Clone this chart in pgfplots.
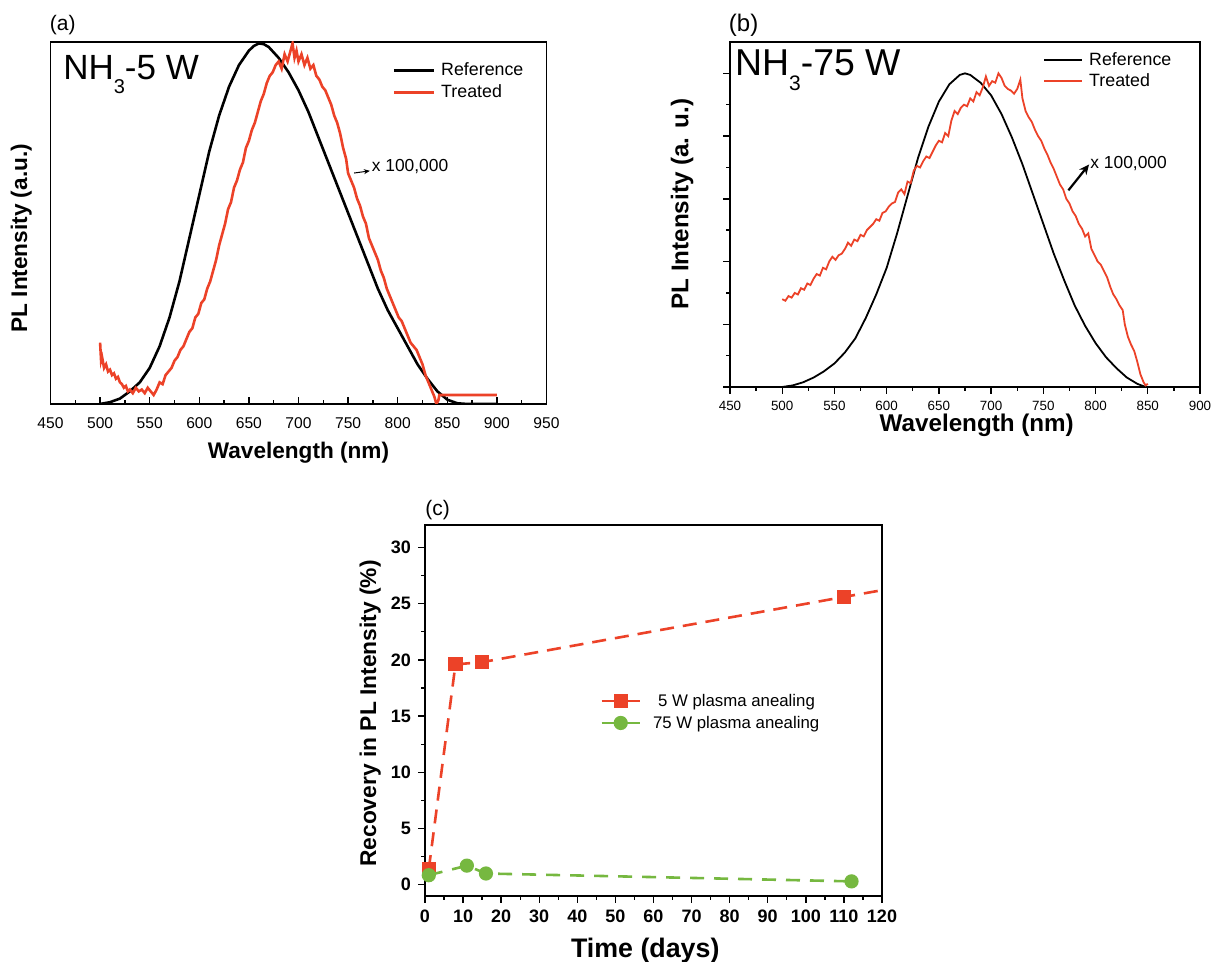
\documentclass[border=0pt]{standalone}
\usepackage{fontspec}
\setmainfont{Liberation Sans}
\usepackage{pgfplots}
\pgfplotsset{compat=1.18}
\usetikzlibrary{arrows.meta}
\definecolor{redline}{RGB}{236,66,40}
\definecolor{greenline}{RGB}{118,184,64}
\newcommand{\fs}[1]{\fontsize{#1}{1.2\dimexpr#1pt\relax}\selectfont}

\pgfplotsset{
  panel/.style={
    scale only axis,
    anchor=south west,
    axis line style={line width=0.8pt},
    every tick/.style={black, line width=0.7pt},
    tick align=outside,
    xtick pos=bottom,
    ytick pos=left,
    major tick length=3.5pt,
    minor tick length=2pt,
    /pgf/number format/assume math mode=true,
    /pgf/number format/1000 sep={},
    clip mode=individual,
  },
  spectrumlegend/.style={
    legend cell align=left,
    legend style={draw=none, fill=none, inner sep=0pt, row sep=#1,
      column sep=3pt, nodes={inner sep=0pt, text height=6.5pt, text depth=1pt}},
  },
}

\begin{document}
\begin{tikzpicture}
\path[use as bounding box] (0,0) rectangle (606pt,481pt);

% ---------------- (a) NH3-5 W ----------------
\begin{axis}[panel,
  at={(25.25pt,279pt)}, width=248pt, height=181pt,
  xmin=450, xmax=950, ymin=0, ymax=1.004,
  xtick={450,500,...,950}, minor x tick num=1,
  tick align=inside, xticklabel shift=3.5pt,
  ytick=\empty,
  tick label style={font=\fs{7.8}},
  xlabel={\bfseries Wavelength (nm)},
  ylabel={\bfseries PL Intensity (a.u.)},
  label style={font=\fs{11.3}},
  xlabel style={at={(axis description cs:0.5,-0.085)}, anchor=north},
  ylabel style={at={(axis description cs:-0.059,0.458)}, anchor=center},
  spectrumlegend=3.5pt,
  legend style={at={(rel axis cs:0.689,0.8915)}, anchor=west, font=\fs{8.9}},
  legend image code/.code={\draw[#1] (0pt,0pt) -- (20pt,0pt);},
]
\addplot[black, line width=1.3pt] coordinates {
(500,0.000) (510,0.005) (520,0.015) (530,0.035) (540,0.060) (550,0.100)
(560,0.160) (570,0.240) (580,0.340) (590,0.460) (600,0.580) (610,0.700)
(620,0.800) (630,0.880) (640,0.940) (650,0.980) (655,0.993) (660,1.000)
(665,0.998) (670,0.990) (680,0.960) (690,0.920) (700,0.870) (710,0.810)
(720,0.740) (730,0.670) (740,0.600) (750,0.530) (760,0.460) (770,0.390)
(780,0.320) (790,0.260) (800,0.210) (810,0.160) (820,0.110) (830,0.070)
(840,0.035) (850,0.012) (860,0.002) (870,0.000) (900,0.000)};
\addlegendentry{Reference}
\addplot[redline, line width=1.3pt] coordinates {
(500,0.170) (501,0.120) (502,0.130) (504,0.100) (506,0.110) (508,0.090)
(510,0.095) (512,0.080) (514,0.085) (516,0.070) (518,0.075) (520,0.060)
(522,0.055) (524,0.045) (526,0.050) (528,0.035) (530,0.040) (533,0.030)
(536,0.045) (539,0.035) (542,0.040) (545,0.030) (548,0.045) (551,0.035)
(554,0.025) (557,0.040) (560,0.060) (563,0.055) (566,0.080) (569,0.090)
(572,0.100) (575,0.120) (578,0.130) (581,0.150) (584,0.160) (587,0.180)
(590,0.200) (593,0.210) (596,0.240) (599,0.250) (602,0.280) (605,0.290)
(608,0.320) (611,0.340) (614,0.370) (617,0.400) (620,0.440) (623,0.470)
(626,0.500) (629,0.540) (632,0.560) (635,0.600) (638,0.620) (641,0.650)
(644,0.670) (647,0.710) (650,0.730) (653,0.760) (656,0.780) (659,0.810)
(662,0.840) (665,0.860) (668,0.890) (671,0.910) (674,0.920) (677,0.940)
(680,0.950) (683,0.930) (686,0.970) (689,0.950) (692,0.980) (694,1.000)
(696,0.960) (698,0.980) (700,0.950) (703,0.970) (706,0.940) (709,0.960)
(712,0.930) (715,0.940) (718,0.910) (721,0.900) (724,0.880) (727,0.870)
(730,0.850) (733,0.830) (736,0.800) (739,0.780) (742,0.750) (745,0.710)
(748,0.680) (750,0.640) (753,0.620) (756,0.600) (759,0.570) (762,0.550)
(765,0.520) (768,0.500) (771,0.460) (774,0.440) (777,0.420) (780,0.400)
(783,0.370) (786,0.350) (789,0.320) (792,0.300) (795,0.280) (798,0.260)
(801,0.240) (804,0.230) (807,0.210) (810,0.190) (813,0.170) (816,0.160)
(819,0.150) (822,0.130) (825,0.110) (828,0.080) (831,0.060) (834,0.040)
(837,0.020) (839,0.000) (841,0.010) (842,0.025) (900,0.025)};
\addlegendentry{Treated}
\node[anchor=base west, font=\fs{17.5}, inner sep=0pt] at (rel axis cs:0.025,0.895)
  {NH\raisebox{-7pt}{\fs{10}3}-5 W};
\node[anchor=west, font=\fs{8.7}, inner sep=0pt] at (rel axis cs:0.647,0.657) {x 100,000};
\draw[-{Stealth[length=3pt,width=2.5pt]}, line width=0.5pt]
  (rel axis cs:0.612,0.638) -- (rel axis cs:0.644,0.644);
\node[anchor=west, font=\fs{10.5}, inner sep=0pt] at (rel axis cs:-0.002,1.046) {(a)};
\end{axis}

% ---------------- (b) NH3-75 W ----------------
\begin{axis}[panel,
  at={(365pt,287.5pt)}, width=235pt, height=172.5pt,
  xmin=450, xmax=900, ymin=0, ymax=11,
  xtick={450,500,...,900}, minor x tick num=1,
  ytick={0,2,...,10}, minor ytick={1,3,...,9}, yticklabels={},
  tick label style={font=\fs{6.7}},
  xlabel={\bfseries Wavelength (nm)},
  ylabel={\bfseries PL Intensity (a. u.)},
  label style={font=\fs{12.1}},
  xlabel style={at={(axis description cs:0.525,-0.112)}, anchor=center},
  ylabel style={at={(axis description cs:-0.102,0.53)}, anchor=center},
  spectrumlegend=3pt,
  legend style={at={(rel axis cs:0.666,0.9165)}, anchor=west, font=\fs{8.9}},
  legend image code/.code={\draw[#1] (0pt,0pt) -- (19pt,0pt);},
]
\addplot[black, line width=0.9pt] coordinates {
(500,0.00) (510,0.05) (520,0.15) (530,0.30) (540,0.50) (550,0.75)
(560,1.10) (570,1.55) (580,2.20) (590,2.95) (600,3.80) (610,4.90)
(620,6.10) (630,7.30) (640,8.30) (650,9.10) (660,9.65) (670,9.95)
(675,10.00) (680,9.95) (690,9.70) (700,9.30) (710,8.70) (720,7.95)
(730,7.10) (740,6.15) (750,5.20) (760,4.25) (770,3.40) (780,2.60)
(790,1.95) (800,1.40) (810,0.95) (820,0.60) (830,0.30) (840,0.10)
(848,0.00)};
\addlegendentry{Reference}
\addplot[redline, line width=0.9pt] coordinates {
(500,2.80) (503,2.75) (506,2.90) (509,2.85) (512,3.00) (515,2.95)
(518,3.15) (521,3.10) (524,3.30) (527,3.25) (530,3.45) (533,3.60)
(536,3.55) (539,3.80) (542,3.75) (545,4.00) (548,4.15) (551,4.05)
(554,4.20) (557,4.25) (560,4.40) (563,4.60) (566,4.50) (569,4.70)
(572,4.65) (575,4.85) (578,4.80) (581,5.00) (584,5.10) (587,5.20)
(590,5.35) (593,5.30) (596,5.55) (599,5.60) (602,5.75) (605,5.85)
(608,5.90) (611,6.20) (614,6.30) (617,6.15) (620,6.55) (623,6.50)
(626,6.90) (629,7.05) (632,7.00) (635,7.20) (638,7.35) (641,7.30)
(644,7.50) (647,7.70) (650,7.85) (653,7.80) (656,8.10) (659,8.00)
(662,8.50) (665,8.80) (668,8.70) (671,8.90) (674,9.00) (677,8.95)
(680,9.20) (683,9.10) (686,9.40) (689,9.30) (692,9.55) (695,9.90)
(698,9.60) (701,9.75) (704,9.70) (707,10.00) (710,9.85) (713,9.60)
(716,9.50) (719,9.45) (722,9.35) (725,9.50) (728,9.80) (730,9.20)
(733,8.80) (736,8.60) (739,8.45) (742,8.20) (745,8.00) (748,7.85)
(751,7.60) (754,7.40) (757,7.15) (760,6.95) (763,6.70) (766,6.45)
(769,6.30) (772,6.00) (775,5.85) (778,5.60) (781,5.45) (784,5.20)
(787,5.05) (790,4.80) (793,4.90) (796,4.40) (799,4.20) (802,4.00)
(805,3.90) (808,3.70) (811,3.50) (814,3.20) (817,2.95) (820,2.80)
(823,2.60) (826,2.45) (828,2.00) (831,1.60) (834,1.35) (837,1.15)
(840,0.80) (843,0.40) (846,0.15) (848,0.05) (850,0.10)};
\addlegendentry{Treated}
\node[anchor=base west, font=\fs{18.7}, inner sep=0pt] at (rel axis cs:0.01,0.903)
  {NH\raisebox{-7.5pt}{\fs{10.5}3}-75 W};
\node[anchor=west, font=\fs{8.7}, inner sep=0pt] at (rel axis cs:0.766,0.647) {x 100,000};
\draw[-{Stealth[length=5pt,width=4.5pt]}, line width=1.1pt]
  (rel axis cs:0.720,0.570) -- (rel axis cs:0.764,0.645);
\node[anchor=west, font=\fs{12}, inner sep=0pt] at (rel axis cs:-0.003,1.048) {(b)};
\end{axis}

% ---------------- (c) recovery ----------------
\begin{axis}[panel,
  at={(212.5pt,33pt)}, width=228.5pt, height=185.5pt,
  xmin=0, xmax=120, ymin=-1, ymax=32,
  xtick={0,10,...,120}, minor x tick num=1,
  ytick={0,5,...,30}, minor y tick num=1,
  tick label style={font=\fs{9}\bfseries},
  xlabel={\bfseries Time (days)},
  ylabel={\bfseries Recovery in PL Intensity (\%)},
  xlabel style={font=\fs{13.4}, at={(axis description cs:0.482,-0.146)}, anchor=center},
  ylabel style={font=\fs{11.4}, at={(axis description cs:-0.12,0.492)}, anchor=center},
  legend cell align=left,
  legend style={draw=none, fill=none, inner sep=0pt, row sep=3.5pt, column sep=6pt,
    font=\fs{8.4}, nodes={inner sep=0pt, text height=6.5pt, text depth=1pt},
    at={(rel axis cs:0.383,0.496)}, anchor=west},
  legend image code/.code={\draw[#1, mark indices={2}]
    plot coordinates {(0pt,0pt) (9.5pt,0pt) (19pt,0pt)};},
  legend image post style={solid},
]
\addplot[redline, line width=1.3pt, dash pattern=on 7pt off 4.5pt,
  mark=square*, mark size=2.9pt, mark options={solid, fill=redline, draw=redline},
  mark indices={1,2,3,4}] coordinates {
(1,1.4) (8,19.6) (15,19.8) (110,25.6) (120,26.2)};
\addlegendentry{\hspace{2.5pt}5 W plasma anealing}
\addplot[greenline, line width=1.3pt, dash pattern=on 7pt off 5pt,
  mark=*, mark size=2.9pt, mark options={solid, fill=greenline, draw=greenline}] coordinates {
(1,0.85) (11,1.7) (16,1.0) (112,0.3)};
\addlegendentry{75 W plasma anealing}
\node[anchor=west, font=\fs{10.5}, inner sep=0pt] at (rel axis cs:0.0,1.04) {(c)};
\end{axis}
\end{tikzpicture}
\end{document}
